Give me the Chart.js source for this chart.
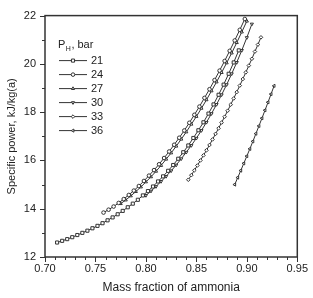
<!DOCTYPE html>
<html>
<head>
<meta charset="utf-8">
<script src="https://cdn.jsdelivr.net/npm/chart.js@4.4.0/dist/chart.umd.min.js"></script>
<style>
  html, body { margin: 0; padding: 0; background: #fff; }
  #wrap { width: 313px; height: 298px; }
</style>
</head>
<body>
<div id="wrap"><canvas id="chart" width="313" height="298"></canvas></div>
<script>
// tick labels
const xTicks = [0.70, 0.75, 0.80, 0.85, 0.90, 0.95];
const yTicks = [12, 14, 16, 18, 20, 22];

// P_H, bar
const seriesLabels = ["21", "24", "27", "30", "33", "36"];

const x21 = [0.712, 0.717, 0.722, 0.727, 0.732, 0.737, 0.742, 0.747, 0.752, 0.757, 0.762, 0.767, 0.772, 0.777, 0.782, 0.787, 0.792, 0.797, 0.802, 0.807, 0.812, 0.817, 0.822, 0.827, 0.832, 0.837, 0.842, 0.847, 0.852, 0.857, 0.862, 0.867, 0.872, 0.877, 0.882, 0.887, 0.892];
const y21 = [12.60, 12.67, 12.74, 12.82, 12.91, 13.00, 13.09, 13.19, 13.29, 13.40, 13.52, 13.64, 13.77, 13.91, 14.06, 14.21, 14.37, 14.55, 14.73, 14.92, 15.13, 15.34, 15.57, 15.81, 16.07, 16.34, 16.62, 16.93, 17.25, 17.58, 17.94, 18.32, 18.72, 19.14, 19.59, 20.06, 20.56];

const x24 = [0.758, 0.763, 0.768, 0.773, 0.778, 0.783, 0.788, 0.793, 0.798, 0.803, 0.808, 0.813, 0.818, 0.823, 0.828, 0.833, 0.838, 0.843, 0.848, 0.853, 0.858, 0.863, 0.868, 0.873, 0.878, 0.883, 0.888, 0.893, 0.898];
const y24 = [13.84, 13.96, 14.09, 14.24, 14.40, 14.57, 14.75, 14.94, 15.15, 15.37, 15.60, 15.84, 16.10, 16.37, 16.65, 16.94, 17.24, 17.56, 17.89, 18.23, 18.59, 18.95, 19.33, 19.72, 20.12, 20.54, 20.97, 21.41, 21.86];

const x27 = [0.775, 0.780, 0.785, 0.790, 0.795, 0.800, 0.805, 0.810, 0.815, 0.820, 0.825, 0.830, 0.835, 0.840, 0.845, 0.850, 0.855, 0.860, 0.865, 0.870, 0.875, 0.880, 0.885, 0.890, 0.895, 0.900];
const y27 = [14.21, 14.36, 14.53, 14.71, 14.90, 15.11, 15.32, 15.55, 15.79, 16.05, 16.31, 16.59, 16.88, 17.18, 17.50, 17.82, 18.16, 18.51, 18.88, 19.25, 19.64, 20.04, 20.45, 20.88, 21.32, 21.77];

const x30 = [0.800, 0.805, 0.810, 0.815, 0.820, 0.825, 0.830, 0.835, 0.840, 0.845, 0.850, 0.855, 0.860, 0.865, 0.870, 0.875, 0.880, 0.885, 0.890, 0.895, 0.900, 0.905];
const y30 = [14.55, 14.73, 14.92, 15.13, 15.34, 15.57, 15.81, 16.07, 16.34, 16.62, 16.92, 17.24, 17.58, 17.94, 18.32, 18.72, 19.14, 19.59, 20.06, 20.56, 21.09, 21.65];

const x33 = [0.842, 0.845, 0.848, 0.851, 0.854, 0.857, 0.860, 0.863, 0.866, 0.869, 0.872, 0.875, 0.878, 0.881, 0.884, 0.887, 0.890, 0.893, 0.896, 0.899, 0.902, 0.905, 0.908, 0.911, 0.914];
const y33 = [15.20, 15.39, 15.59, 15.79, 16.00, 16.21, 16.42, 16.64, 16.87, 17.10, 17.33, 17.57, 17.81, 18.06, 18.31, 18.57, 18.83, 19.10, 19.37, 19.65, 19.93, 20.21, 20.51, 20.80, 21.10];

const x36 = [0.888, 0.891, 0.894, 0.897, 0.900, 0.903, 0.906, 0.909, 0.912, 0.915, 0.918, 0.921, 0.924, 0.927];
const y36 = [15.00, 15.29, 15.58, 15.88, 16.18, 16.48, 16.79, 17.11, 17.43, 17.75, 18.08, 18.41, 18.75, 19.09];

const FONT = '"Liberation Sans", Arial, sans-serif';
const INK = "#222";
Chart.defaults.font.family = FONT;
Chart.defaults.color = INK;

const xs = [x21, x24, x27, x30, x33, x36];
const ys = [y21, y24, y27, y30, y33, y36];
const styles = ["rect", "circle", "triangle", "triangle", "rectRot", "triangle"];
const rots = [0, 0, 0, 180, 0, 270];
const R = 1.8;

const datasets = seriesLabels.map((lab, i) => ({
  label: lab,
  data: xs[i].map((x, j) => ({ x, y: ys[i][j] })),
  borderColor: "#333",
  borderWidth: 1,
  backgroundColor: "#fff",
  pointStyle: styles[i],
  pointRotation: rots[i],
  pointRadius: styles[i] === "rect" ? 2.2 : R,
  pointBorderWidth: 1,
  pointBorderColor: "#333",
  pointBackgroundColor: "#fff",
  tension: 0,
  fill: false
}));

// box round the plot + outward ticks (major and minor)
const frameTicks = {
  id: "frameTicks",
  afterDraw(chart) {
    const { ctx, chartArea: a, scales: { x, y } } = chart;
    ctx.save();
    ctx.strokeStyle = "#333";
    ctx.lineWidth = 1.5;
    ctx.strokeRect(a.left, a.top, a.right - a.left, a.bottom - a.top);
    ctx.lineWidth = 1;
    ctx.beginPath();
    for (let i = 0; i <= 25; i++) {
      const px = Math.round(x.getPixelForValue(0.70 + i * 0.01)) + 0.5;
      const len = i % 5 === 0 ? 5 : 3;
      ctx.moveTo(px, a.bottom);
      ctx.lineTo(px, a.bottom + len);
    }
    for (let i = 0; i <= 10; i++) {
      const py = Math.round(y.getPixelForValue(12 + i)) + 0.5;
      const len = i % 2 === 0 ? 5 : 3;
      ctx.moveTo(a.left, py);
      ctx.lineTo(a.left - len, py);
    }
    ctx.stroke();
    ctx.restore();
  }
};

// legend in the top-left corner of the plot
const legendBox = {
  id: "legendBox",
  afterDatasetsDraw(chart) {
    const { ctx, chartArea: a } = chart;
    ctx.save();
    ctx.textBaseline = "middle";
    ctx.fillStyle = INK;
    const tx = a.left + 13, ty = a.top + 29;
    ctx.font = "11px " + FONT;
    ctx.fillText("P", tx, ty);
    const pw = ctx.measureText("P").width;
    ctx.font = "7px " + FONT;
    ctx.fillText("H", tx + pw + 0.5, ty + 4);
    const hw = ctx.measureText("H").width;
    ctx.font = "11px " + FONT;
    ctx.fillText(", bar", tx + pw + hw + 1, ty);

    chart.data.datasets.forEach((ds, i) => {
      const yy = a.top + 45 + i * 14;
      const x0 = a.left + 14, x1 = x0 + 28;
      ctx.strokeStyle = "#333";
      ctx.lineWidth = 1;
      ctx.beginPath();
      ctx.moveTo(x0, yy);
      ctx.lineTo(x1, yy);
      ctx.stroke();
      ctx.fillStyle = "#fff";
      Chart.helpers.drawPoint(ctx, {
        pointStyle: ds.pointStyle, rotation: ds.pointRotation,
        radius: ds.pointRadius, borderWidth: 1
      }, (x0 + x1) / 2, yy);
      ctx.fillStyle = INK;
      ctx.fillText(ds.label, x1 + 4, yy);
    });
    ctx.restore();
  }
};

new Chart(document.getElementById("chart"), {
  type: "line",
  data: { datasets },
  options: {
    responsive: false,
    animation: false,
    layout: { padding: { top: 12, right: 11, left: 0, bottom: 0 } },
    plugins: { legend: { display: false }, tooltip: { enabled: false } },
    scales: {
      x: {
        type: "linear",
        min: 0.70,
        max: 0.95,
        afterFit: s => { s.height = 41; },
        afterBuildTicks: s => { s.ticks = xTicks.map(v => ({ value: v })); },
        grid: { display: false, drawTicks: false },
        border: { display: false },
        ticks: { padding: 5, font: { size: 11 }, color: INK, maxRotation: 0, autoSkip: false,
          callback: v => v.toFixed(2) },
        title: { display: true, text: "Mass fraction of ammonia", font: { size: 12 }, color: INK,
          padding: { top: 0, bottom: 3 } }
      },
      y: {
        type: "linear",
        min: 12,
        max: 22,
        afterFit: s => { s.width = 45; },
        afterBuildTicks: s => { s.ticks = yTicks.map(v => ({ value: v })); },
        grid: { display: false, drawTicks: false },
        border: { display: false },
        ticks: { padding: 9, font: { size: 11 }, color: INK },
        title: { display: true, text: "Specific power, kJ/kg(a)", font: { size: 11 }, color: INK,
          padding: { top: 5, bottom: 0 } }
      }
    }
  },
  plugins: [frameTicks, legendBox]
});
</script>
</body>
</html>
